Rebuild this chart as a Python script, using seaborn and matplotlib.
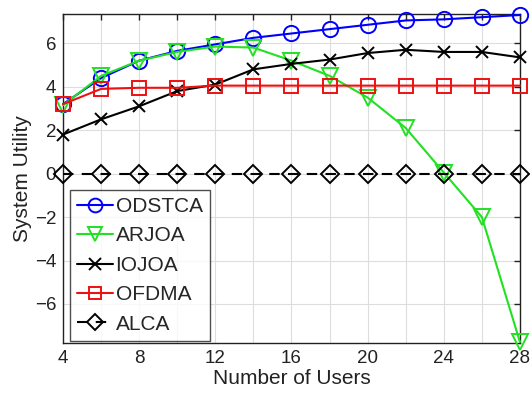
import numpy as np
import pandas as pd
import matplotlib
matplotlib.use("Agg")
import matplotlib.pyplot as plt
import seaborn as sns

users = [4, 6, 8, 10, 12, 14, 16, 18, 20, 22, 24, 26, 28]
odstca = [3.2, 4.4, 5.2, 5.65, 5.95, 6.25, 6.45, 6.65, 6.85, 7.05, 7.1, 7.2, 7.3]
arjoa = [3.15, 4.5, 5.2, 5.6, 5.85, 5.8, 5.2, 4.5, 3.5, 2.1, 0.05, -2.0, -7.75]
iojoa = [1.8, 2.5, 3.1, 3.8, 4.1, 4.8, 5.05, 5.25, 5.55, 5.7, 5.6, 5.6, 5.35]
ofdma = [3.2, 3.9, 3.95, 3.95, 4.05, 4.05, 4.05, 4.05, 4.05, 4.05, 4.05, 4.05, 4.05]
alca = [0] * 13

series = {"ODSTCA": odstca, "ARJOA": arjoa, "IOJOA": iojoa, "OFDMA": ofdma, "ALCA": alca}
colors = {"ODSTCA": "#0000ff", "ARJOA": "#22e022", "IOJOA": "black", "OFDMA": "#ee1111", "ALCA": "black"}
markers = {"ODSTCA": "o", "ARJOA": "v", "IOJOA": "x", "OFDMA": "s", "ALCA": "D"}
msize = {"ODSTCA": 11, "ARJOA": 11, "IOJOA": 9, "OFDMA": 10, "ALCA": 9}
styles = {"ODSTCA": "-", "ARJOA": "-", "IOJOA": "-", "OFDMA": "-", "ALCA": (0, (5, 4))}

sns.set_theme(style="white")
plt.rcParams["font.family"] = ["Liberation Sans", "DejaVu Sans"]

fig = plt.figure(figsize=(5.3, 3.98), dpi=100)
ax = fig.add_axes([0.119, 0.138, 0.862, 0.827])

df = pd.DataFrame({"users": users})
for name, vals in series.items():
    df[name] = vals
    sns.lineplot(data=df, x="users", y=name, ax=ax, color=colors[name],
                 linestyle=styles[name], linewidth=1.5, marker=markers[name],
                 markersize=msize[name], markerfacecolor="none",
                 markeredgecolor=colors[name], markeredgewidth=1.4,
                 label=name, clip_on=False, zorder=3)

ax.set_xlim(4, 28)
ax.set_ylim(-7.8, 7.35)
ax.set_xticks([4, 8, 12, 16, 20, 24, 28])
ax.set_xticks(np.arange(4, 29, 2), minor=True)
ax.set_yticks([-6, -4, -2, 0, 2, 4, 6])
ax.grid(True, which="both", axis="x", color="#dddddd", linewidth=0.8)
ax.grid(True, which="major", axis="y", color="#dddddd", linewidth=0.8)
ax.tick_params(axis="both", which="both", direction="in", top=True, right=True,
               labelsize=13.5, colors="#222222", length=4, width=1)
ax.tick_params(axis="both", which="major", pad=5)
for s in ax.spines.values():
    s.set_color("#222222")
    s.set_linewidth(1.0)
ax.set_xlabel("Number of Users", fontsize=15, color="#222222")
ax.xaxis.set_label_coords(0.5, -0.08)
ax.set_ylabel("System Utility", fontsize=15, color="#222222", labelpad=2)

leg = ax.legend(loc="lower left", bbox_to_anchor=(0.01, 0.0), fontsize=15,
                frameon=True, fancybox=False, edgecolor="#222222", handlelength=1.75,
                handletextpad=0.1, borderpad=0.35, labelspacing=0.5, borderaxespad=0.1,
                markerscale=0.9)
leg.get_frame().set_linewidth(1.0)

fig.savefig("out.png", dpi=100)
